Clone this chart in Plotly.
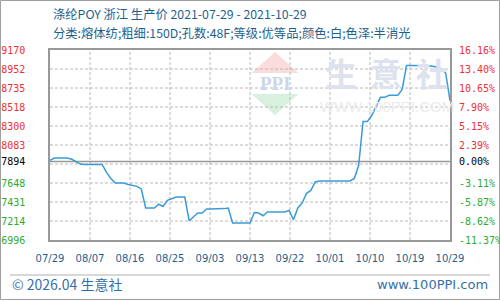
import plotly.graph_objects as go

# ---------------- data ----------------
title_text = "涤纶POY 浙江 生产价 2021-07-29 - 2021-10-29"
subtitle_text = "分类:熔体纺;粗细:150D;孔数:48F;等级:优等品;颜色:白;色泽:半消光"

x_tick_labels = ["07/29", "08/07", "08/16", "08/25", "09/03", "09/13",
                 "09/22", "10/01", "10/10", "10/19", "10/29"]

# daily prices, day 0 = 2021-07-29 ... day 92 = 2021-10-29
prices = [
    7907, 7934, 7934, 7934, 7934, 7920, 7895, 7865, 7860, 7860,
    7860, 7860, 7860, 7770, 7700, 7648, 7648, 7648, 7630, 7621,
    7610, 7580, 7362, 7362, 7362, 7405, 7380, 7449, 7470, 7488,
    7488, 7488, 7217, 7260, 7305, 7305, 7351, 7351, 7351, 7351,
    7355, 7362, 7191, 7191, 7191, 7191, 7191, 7310, 7305, 7274,
    7317, 7317, 7317, 7317, 7317, 7335, 7228, 7362, 7420, 7530,
    7563, 7660, 7671, 7671, 7671, 7671, 7671, 7671, 7671, 7671,
    7700, 7850, 8353, 8353, 8420, 8530, 8628, 8628, 8651, 8651,
    8651, 8720, 8994, 8994, 8994, 8992, 8990, 8990, 8985, 8975,
    8955, 8907, 8590,
]
days = list(range(len(prices)))

base_price = 7894
y_max, y_min = 9170, 6996
y_labels = ["9170", "8952", "8735", "8518", "8300", "8083", "", "7648",
            "7431", "7214", "6996"]
pct_labels = ["16.16%", "13.40%", "10.65%", "7.90%", "5.15%", "2.39%", "",
              "-3.11%", "-5.87%", "-8.62%", "-11.37%"]
base_label = "7894"
base_pct = "0.00%"

# ---------------- derived ----------------
n_days = days[-1]
n_x = len(x_tick_labels) - 1
x_tick_pos = [n_days * i / n_x for i in range(n_x + 1)]
step = (y_max - y_min) / 10
grid_vals = [y_max - k * step for k in range(11)]

RED, GREEN, BLACK = "#f03030", "#2eaa2e", "#000000"


def colored(txt, v):
    if txt == "":
        return ""
    c = RED if v > base_price else (GREEN if v < base_price else BLACK)
    return f"<span style='color:{c}'>{txt}</span>"


left_vals = grid_vals + [base_price]
left_text = [colored(t, v) for t, v in zip(y_labels, grid_vals)] + [colored(base_label, base_price)]
right_text = [colored(t, v) for t, v in zip(pct_labels, grid_vals)] + [colored(base_pct, base_price)]

LINE = "#3a9ad9"
BLUE_TXT = "#1e5f8e"
FONT = "DejaVu Sans"
MONO = "DejaVu Sans Mono"
GRID = "#b8b8b8"

# grid paths built from the axis tick positions (drawn as line traces)
hx, hy = [], []
for gv in grid_vals[1:-1]:
    hx += [0, n_days, None]
    hy += [gv, gv, None]
vx, vy = [], []
for xv in x_tick_pos[1:-1]:
    vx += [xv, xv, None]
    vy += [y_min, y_max, None]

fig = go.Figure()
fig.add_trace(go.Scatter(x=hx, y=hy, mode="lines", connectgaps=False,
                         line=dict(color=GRID, width=1, dash="3px,2px"),
                         hoverinfo="skip", showlegend=False))
fig.add_trace(go.Scatter(x=vx, y=vy, mode="lines", connectgaps=False,
                         line=dict(color=GRID, width=1, dash="3px,2px"),
                         hoverinfo="skip", showlegend=False))
fig.add_trace(go.Scatter(x=[0, n_days], y=[base_price, base_price], mode="lines",
                         line=dict(color="#999999", width=1.5),
                         hoverinfo="skip", showlegend=False))
fig.add_trace(go.Scatter(x=days, y=prices, mode="lines",
                         line=dict(color=LINE, width=1.5, shape="linear"),
                         hoverinfo="skip", showlegend=False))
fig.add_trace(go.Scatter(x=days, y=prices, mode="lines", yaxis="y2",
                         line=dict(color="rgba(0,0,0,0)", width=0),
                         hoverinfo="skip", showlegend=False))

# plot area: x 50..450, y 50..240 (px)
L, R, T, B = 50, 50, 50, 60
PW, PH = 500 - L - R, 300 - T - B


def px(xp):
    return (xp - L) / PW


def py(yp):
    return (300 - B - yp) / PH


shapes = []
# outer border
shapes.append(dict(type="rect", xref="paper", yref="paper",
                   x0=px(0.5), x1=px(499.5), y0=py(299.5), y1=py(0.5),
                   fillcolor="rgba(0,0,0,0)",
                   line=dict(color="#a0a0a0", width=1), layer="below"))
# footer separator
shapes.append(dict(type="line", xref="paper", yref="paper",
                   x0=px(10), x1=px(490), y0=py(275), y1=py(275),
                   line=dict(color="#b0b0b0", width=1)))
# watermark logo
shapes.append(dict(type="path", xref="paper", yref="paper",
                   path=f"M {px(251.5)} {py(73)} L {px(275)} {py(52)} L {px(298.5)} {py(73)} Z",
                   fillcolor="#fbdcdc", line=dict(width=0), layer="below"))
shapes.append(dict(type="path", xref="paper", yref="paper",
                   path=f"M {px(251.5)} {py(94)} L {px(298.5)} {py(94)} L {px(275)} {py(115)} Z",
                   fillcolor="#d8f0de", line=dict(width=0), layer="below"))

ann = []
ann.append(dict(text=title_text, xref="paper", yref="paper", x=px(51), y=py(14),
                xanchor="left", yanchor="middle", showarrow=False,
                font=dict(family="Noto Sans CJK SC", size=12.3, color=BLUE_TXT)))
ann.append(dict(text=subtitle_text, xref="paper", yref="paper", x=px(51), y=py(33),
                xanchor="left", yanchor="middle", showarrow=False,
                font=dict(family="Noto Sans CJK SC", size=12.3, color=BLUE_TXT)))
ann.append(dict(text="© 2026.04 生意社", xref="paper", yref="paper", x=px(10), y=py(284),
                xanchor="left", yanchor="middle", showarrow=False,
                font=dict(family="Noto Sans CJK SC", size=14, color="#3470a8")))
ann.append(dict(text="www.100PPI.com", xref="paper", yref="paper", x=px(490), y=py(284),
                xanchor="right", yanchor="middle", showarrow=False,
                font=dict(family="DejaVu Sans", size=13, color="#3470a8")))
# watermark texts
ann.append(dict(text="<b>PPI</b>", xref="paper", yref="paper", x=px(275), y=py(83),
                xanchor="center", yanchor="middle", showarrow=False,
                font=dict(family="Liberation Serif", size=19, color="#cdd6e8")))
for cx, ch in zip([341, 386, 432], ["生", "意", "社"]):
    ann.append(dict(text=f"<b>{ch}</b>", xref="paper", yref="paper", x=px(cx), y=py(72),
                    xanchor="center", yanchor="middle", showarrow=False,
                    font=dict(family="Noto Sans CJK SC", size=32, color="#dde2ee")))
ann.append(dict(text="WWW.100PPI.COM", xref="paper", yref="paper", x=px(387), y=py(106),
                xanchor="center", yanchor="middle", showarrow=False,
                font=dict(family="Liberation Sans", size=15, color="#ebebeb")))

fig.update_layout(
    width=500, height=300,
    margin=dict(l=L, r=R, t=T, b=B, pad=0, autoexpand=False),
    paper_bgcolor="white", plot_bgcolor="rgba(0,0,0,0)",
    shapes=shapes, annotations=ann,
    xaxis=dict(range=[0, n_days], tickmode="array", tickvals=x_tick_pos,
               ticktext=x_tick_labels, showgrid=False, zeroline=False, automargin=False,
               showline=True, linecolor="#999999", linewidth=1.5, mirror=True,
               ticks="", ticklabelstandoff=8,
               tickfont=dict(family=FONT, size=10, color=BLUE_TXT)),
    yaxis=dict(range=[y_min, y_max], tickmode="array", tickvals=left_vals,
               ticktext=left_text, showgrid=False, zeroline=False, automargin=False,
               showline=True, linecolor="#999999", linewidth=1.5, mirror=True,
               ticks="", ticklabelstandoff=21,
               tickfont=dict(family=MONO, size=10, color=BLACK)),
    yaxis2=dict(range=[y_min, y_max], overlaying="y", side="right",
                tickmode="array", tickvals=left_vals, ticktext=right_text,
                showgrid=False, zeroline=False, showline=False, ticks="",
                ticklabelstandoff=8, automargin=False,
                tickfont=dict(family=MONO, size=10, color=BLACK)),
)

fig.write_html("out.html")
